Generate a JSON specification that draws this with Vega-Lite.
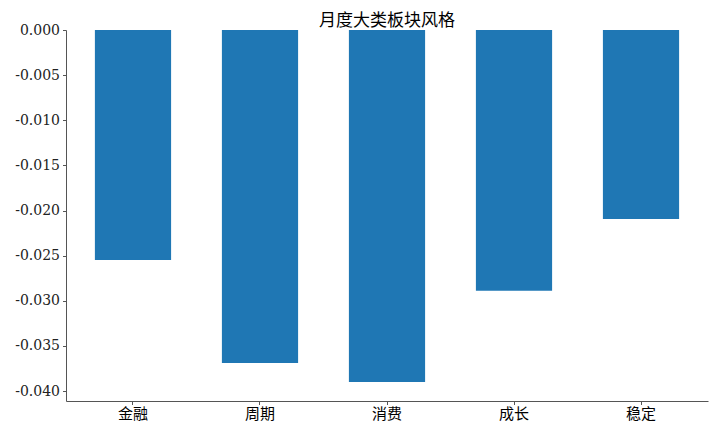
{
  "$schema": "https://vega.github.io/schema/vega-lite/v6.json",
  "width": 642,
  "height": 371,
  "autosize": "none",
  "padding": {"left": 66, "top": 30, "right": 12, "bottom": 31},
  "background": "white",
  "title": {"text": "月度大类板块风格", "font": "Noto Sans CJK SC", "fontSize": 17, "fontWeight": "normal", "color": "#000000", "offset": -7},
  "data": {"values": [
    {"sector": "金融", "value": -0.02548},
    {"sector": "周期", "value": -0.0369},
    {"sector": "消费", "value": -0.0390},
    {"sector": "成长", "value": -0.0289},
    {"sector": "稳定", "value": -0.02094}
  ]},
  "mark": {"type": "bar", "color": "#1f77b4"},
  "encoding": {
    "x": {"field": "sector", "type": "nominal", "sort": null,
      "scale": {"paddingInner": 0.4, "paddingOuter": 0.2275},
      "axis": {"title": null, "labelAngle": 0, "labelFont": "Noto Sans CJK SC", "labelFontSize": 15, "labelColor": "#000000", "domainColor": "#555555", "tickColor": "#555555", "tickSize": 3.5, "labelPadding": 2, "grid": false}},
    "y": {"field": "value", "type": "quantitative",
      "scale": {"domain": [-0.0411, 0], "nice": false, "zero": false},
      "axis": {"title": null, "values": [0, -0.005, -0.01, -0.015, -0.02, -0.025, -0.03, -0.035, -0.04],
        "labelExpr": "replace(format(datum.value, '.3f'), '\u2212', '-')",
        "labelFont": "DejaVu Serif", "labelFontSize": 14, "labelColor": "#222222", "domainColor": "#555555", "tickColor": "#555555", "tickSize": 3.5, "labelPadding": 3, "grid": false}}
  },
  "config": {"view": {"stroke": null}}
}
